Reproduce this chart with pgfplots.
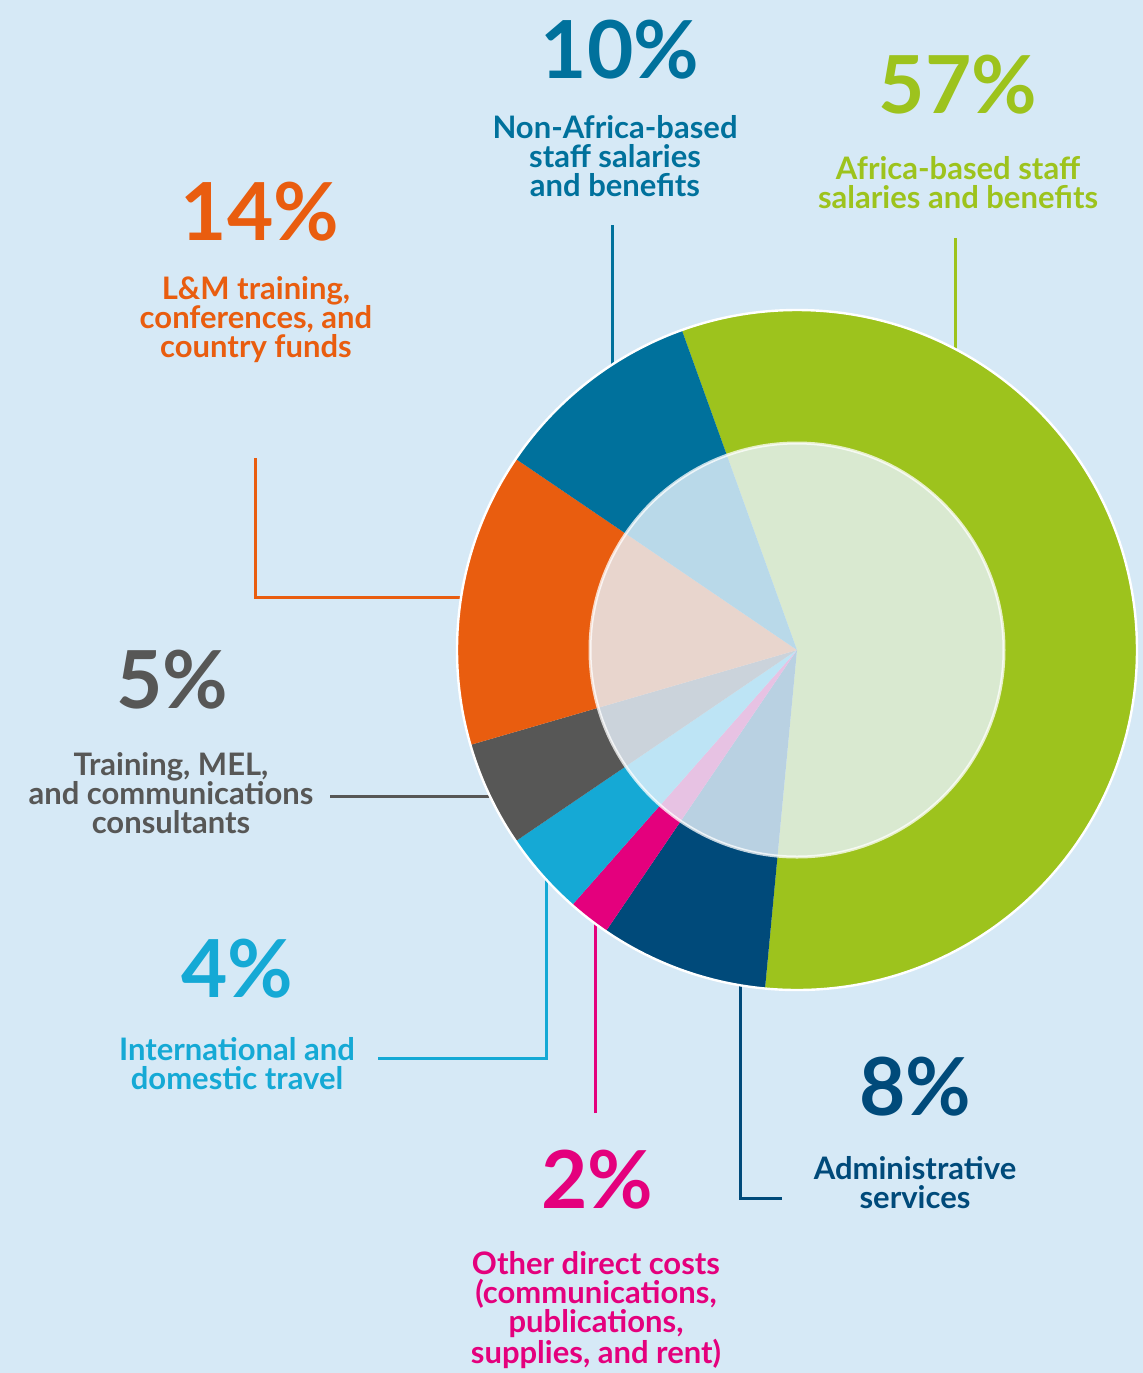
\documentclass[border=0pt]{standalone}
\usepackage{pgfplots}
\pgfplotsset{compat=1.18}
\usepackage{pgfplotstable}
\usepackage{fontspec}
\setmainfont{Lato}

\definecolor{bg}{RGB}{214,233,246}
\definecolor{cgreen}{RGB}{157,195,29}
\definecolor{cteal}{RGB}{0,113,156}
\definecolor{corange}{RGB}{233,93,15}
\definecolor{cgrey}{RGB}{87,87,86}
\definecolor{clight}{RGB}{21,169,213}
\definecolor{cpink}{RGB}{228,0,125}
\definecolor{cdark}{RGB}{0,74,122}
\definecolor{ovl}{RGB}{232,243,253}

% wedge mark: radius 340px = 170pt, clockwise from 109.8 deg
\pgfdeclareplotmark{wedge}{%
  \pgfmathsetmacro\aA{109.8-3.6*\cumv}%
  \pgfmathsetmacro\aB{\aA-3.6*\pctv}%
  \pgfpathmoveto{\pgfpointorigin}%
  \pgfpathlineto{\pgfpointpolar{\aA}{170pt}}%
  \pgfpatharc{\aA}{\aB}{170pt}%
  \pgfpathclose
  \pgfusepath{fill}%
}

\pgfplotstableread{
x   y   pct cum cls
797 650 57  0   g
797 650 8   57  d
797 650 2   65  p
797 650 4   67  l
797 650 5   71  k
797 650 14  76  o
797 650 10  90  b
}\piedata

\newcommand{\pct}[1]{\fontsize{40}{40}\selectfont\bfseries #1}
\tikzset{lbl/.style={align=center, inner sep=0pt, font=\fontsize{15.5}{14.5}\selectfont\bfseries}}

\begin{document}
\begin{tikzpicture}
\begin{axis}[
  x=0.5pt, y=0.5pt,
  xmin=0, xmax=1143, ymin=0, ymax=1373,
  y dir=reverse,
  hide axis, clip=false,
]
\fill[bg] (rel axis cs:0,0) rectangle (rel axis cs:1,1);

% pie
\addplot[scatter, only marks, mark=wedge,
  scatter src=explicit symbolic,
  scatter/classes={
    g={fill=cgreen}, d={fill=cdark}, p={fill=cpink}, l={fill=clight},
    k={fill=cgrey}, o={fill=corange}, b={fill=cteal}},
  visualization depends on={\thisrow{pct}\as\pctv},
  visualization depends on={\thisrow{cum}\as\cumv},
] table[x=x, y=y, meta=cls] {\piedata};

% outer white rim and inner translucent disc
\addplot[only marks, mark=o, mark size=170pt,
  mark options={draw=white, line width=1.2pt}] coordinates {(797,650)};
\addplot[only marks, mark=*, mark size=103.5pt,
  mark options={fill=ovl, fill opacity=0.8, draw=white, draw opacity=0.75, line width=1.5pt}]
  coordinates {(797,650)};

% leader lines
\addplot[cgreen, line width=1.5pt] coordinates {(955,238) (955,352)};
\addplot[cteal, line width=1.5pt] coordinates {(612,225) (612,366)};
\addplot[corange, line width=1.5pt] coordinates {(255,458) (255,597) (462,597)};
\addplot[cgrey, line width=1.5pt] coordinates {(330,796) (492,796)};
\addplot[clight, line width=1.5pt] coordinates {(378,1058) (546,1058) (546,852)};
\addplot[cpink, line width=1.5pt] coordinates {(595,1113) (595,922)};
\addplot[cdark, line width=1.5pt] coordinates {(740,985) (740,1198) (782,1198)};

% labels
\node[anchor=base, text=cteal] at (axis cs:620,78) {\pct{10\%}};
\node[lbl, text=cteal] at (axis cs:615,156) {Non-Africa-based\\staff salaries\\and benefits};

\node[anchor=base, text=cgreen] at (axis cs:958,113) {\pct{57\%}};
\node[lbl, text=cgreen] at (axis cs:958,183) {Africa-based staff\\salaries and benefits};

\node[anchor=base, text=corange] at (axis cs:260,240) {\pct{14\%}};
\node[lbl, text=corange] at (axis cs:256,320) {L\&M training,\\conferences, and\\country funds};

\node[anchor=base, text=cgrey] at (axis cs:172,708) {\pct{5\%}};
\node[lbl, text=cgrey] at (axis cs:171,793) {Training, MEL,\\and communications\\consultants};

\node[anchor=base, text=clight] at (axis cs:237,997) {\pct{4\%}};
\node[lbl, text=clight] at (axis cs:237,1064) {International and\\domestic travel};

\node[anchor=base, text=cpink] at (axis cs:597,1208) {\pct{2\%}};
\node[lbl, text=cpink] at (axis cs:596,1310) {Other direct costs\\(communications,\\publications,\\supplies, and rent)};

\node[anchor=base, text=cdark] at (axis cs:915,1115) {\pct{8\%}};
\node[lbl, text=cdark] at (axis cs:915,1183) {Administrative\\services};
\end{axis}
\pgfresetboundingbox
\path (current axis.south west) rectangle (current axis.north east);
\end{tikzpicture}
\end{document}
